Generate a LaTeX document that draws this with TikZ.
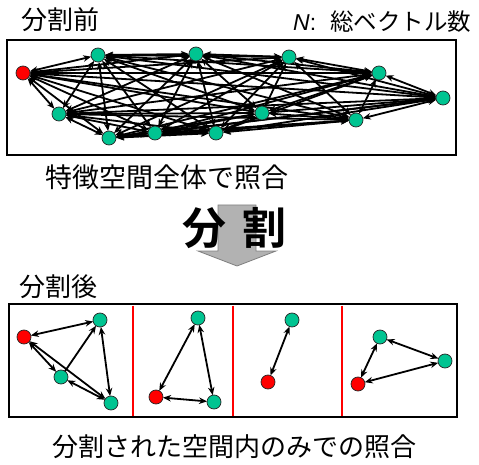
\documentclass[tikz,border=0pt]{standalone}
\usepackage{fontspec}
\newfontfamily\jp{Noto Sans CJK JP}
\newfontfamily\jpb{Noto Sans CJK JP Bold}
\newfontfamily\lsans{Liberation Sans}
\usetikzlibrary{arrows.meta}
\definecolor{vgreen}{RGB}{0,196,145}
\definecolor{vred}{RGB}{255,0,0}
\pgfdeclarelayer{bg}
\pgfsetlayers{bg,main}
\begin{document}
\begin{tikzpicture}[x=1pt,y=-1pt,
  gn/.style={circle,fill=vgreen,draw=black!85,line width=0.7pt,minimum size=14pt,inner sep=0pt,outer sep=0pt},
  rn/.style={gn,fill=vred},
  tip/.tip={Stealth[length=8pt,width=6.5pt]},
  link/.style={line width=1.8pt,tip-tip},
  onelink/.style={line width=1.8pt,-tip},
  frame/.style={draw=black,line width=2.4pt},
  divider/.style={draw=vred,line width=2pt},
  lbl/.style={inner sep=0pt,anchor=west}]
\useasboundingbox (0,0) rectangle (479,465);
% ---- top labels
\node[lbl,font=\jp\fontsize{26}{26}\selectfont] (tb) at (21,20) {分割前};
\node[lbl,font=\fontsize{23}{23}\selectfont] (tn) at (293,22) {{\lsans\itshape N}{\lsans:}\hspace{14pt}{\jp\fontsize{23.5}{24}\selectfont 総ベクトル数}};
% ---- top box
\draw[frame] (7,40) rectangle (456,155);
\node[rn] (n0) at (23,73) {};
\node[gn] (n1) at (98,55) {};
\node[gn] (n2) at (196,54) {};
\node[gn] (n3) at (289,57) {};
\node[gn] (n4) at (379,73) {};
\node[gn] (n5) at (443,98) {};
\node[gn] (n6) at (59,114) {};
\node[gn] (n7) at (262,113) {};
\node[gn] (n8) at (356,120) {};
\node[gn] (n9) at (109,138) {};
\node[gn] (n10) at (155,133) {};
\node[gn] (n11) at (216,133) {};
\begin{pgfonlayer}{bg}
\foreach \i in {0,...,10}{
  \pgfmathtruncatemacro\k{\i+1}
  \foreach \j in {\k,...,11}{
    \draw[link] (n\i) -- (n\j);
  }
}
\end{pgfonlayer}
\node[lbl,font=\jp\fontsize{27}{27}\selectfont] (tall) at (45,177) {特徴空間全体で照合};
% ---- big arrow
\draw[fill=black!30,draw=black!50,line width=0.8pt] (218,205) -- (256,205) -- (256,251) -- (276,251) -- (237,266) -- (198,251) -- (218,251) -- cycle;
\node[font=\jpb\fontsize{44}{44}\selectfont,inner sep=0pt] (d1) at (204,228) {分};
\node[font=\jpb\fontsize{44}{44}\selectfont,inner sep=0pt] (d2) at (264,228) {割};
% ---- bottom
\node[lbl,font=\jp\fontsize{26}{26}\selectfont] (ta) at (19,287) {分割後};
\draw[frame] (9,304) rectangle (457,417);
\path[divider] (133,305.5) -- (133,415.5);
\path[divider] (233,305.5) -- (233,415.5);
\path[divider] (342,305.5) -- (342,415.5);
% section 1
\node[rn] (p0) at (24,337) {};
\node[gn] (p1) at (100,320) {};
\node[gn] (p2) at (61,377) {};
\node[gn] (p3) at (111,403) {};
\draw[link] (p0) -- (p1);
\draw[link] (p0) -- (p2);
\draw[link] (p0) -- (p3);
\draw[onelink] (p2) -- (p1);
\draw[link] (p1) -- (p3);
\draw[link] (p2) -- (p3);
% section 2
\node[gn] (q1) at (198,318) {};
\node[rn] (q0) at (156,397) {};
\node[gn] (q2) at (214,402) {};
\draw[link] (q1) -- (q0);
\draw[link] (q1) -- (q2);
\draw[link] (q0) -- (q2);
% section 3
\node[gn] (s1) at (292,320) {};
\node[rn] (s0) at (268,382) {};
\draw[link] (s1) -- (s0);
% section 4
\node[gn] (u1) at (380,337) {};
\node[gn] (u2) at (445,361) {};
\node[rn] (u0) at (358,384) {};
\draw[link] (u1) -- (u2);
\draw[link] (u1) -- (u0);
\draw[link] (u0) -- (u2);
\node[lbl,font=\jp\fontsize{26}{26}\selectfont] (tsub) at (52,447) {分割された空間内のみでの照合};
\end{tikzpicture}
\end{document}
